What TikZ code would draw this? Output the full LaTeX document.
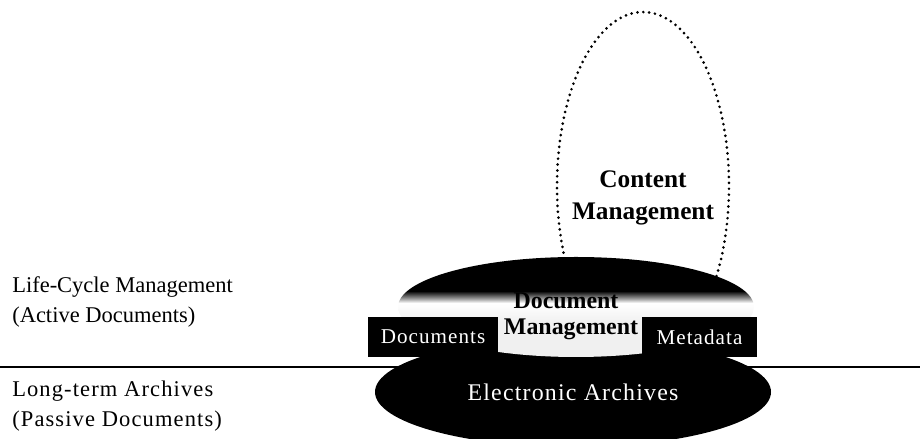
\documentclass[tikz,border=0pt]{standalone}
\usepackage{fontspec}
\setmainfont{Liberation Serif}
\newfontfamily\widefont[LetterSpace=5]{Liberation Serif}
\usetikzlibrary{shapes.geometric}
\pgfdeclareverticalshading{docshade}{100bp}{color(0bp)=(black!6); color(42bp)=(black!6); color(52bp)=(white); color(54bp)=(black!35); color(58bp)=(black); color(100bp)=(black)}
\tikzset{
  lbl/.style={font=\fontsize{16}{19}\selectfont, anchor=base west, inner sep=0pt},
  widelbl/.style={lbl, font=\widefont\fontsize{16}{19}\selectfont},
  darkbox/.style={fill=black, text=white, font=\widefont\fontsize{15}{18}\selectfont, minimum height=1cm, inner sep=0pt},
  boldlbl/.style={font=\bfseries\fontsize{18}{21}\selectfont, anchor=base, inner sep=0pt},
  dotline/.style={line width=2.1pt, line cap=round, dash pattern=on 0pt off 4.2pt}
}
\begin{document}
\begin{tikzpicture}
\useasboundingbox (0,0) rectangle (23,10.975);
\coordinate (eggc) at (16.075,6.325);
\draw[dotline] (eggc) ++(220:2.15 and 4.35) arc[start angle=220, end angle=-40, x radius=2.15, y radius=4.35];
\node[boldlbl] (content) at (16.075,6.275) {Content};
\node[boldlbl] (contentmgmt) at (16.075,5.475) {Management};
\coordinate (lineW) at (0,1.8);
\coordinate (lineE) at (23,1.8);
\draw[line width=0.9pt] (lineW) -- (lineE);
\node[lbl] (life) at (0.3,3.65) {Life-Cycle Management};
\node[lbl] (active) at (0.3,2.9) {(Active Documents)};
\node[widelbl] (longterm) at (0.3,1.05) {Long-term Archives};
\node[widelbl] (passive) at (0.3,0.3) {(Passive Documents)};
\node[ellipse, fill=black, minimum width=9.9cm, minimum height=2.75cm, inner sep=0pt, text=white, font=\widefont\fontsize{17}{20}\selectfont] (archive) at (14.325,1.175) {Electronic Archives};
\node[ellipse, shade, shading=docshade, minimum width=8.9cm, minimum height=2.5cm, inner sep=0pt] (docmgmt) at (14.4,3.3) {};
\node[darkbox, minimum width=3.25cm] (docs) at (10.825,2.55) {Documents};
\node[darkbox, minimum width=2.875cm] (meta) at (17.4875,2.55) {Metadata};
\node[boldlbl, font=\bfseries\fontsize{17}{20}\selectfont] (docword) at (14.15,3.25) {Document};
\node[boldlbl, font=\bfseries\fontsize{17}{20}\selectfont] (mgmtword) at (14.275,2.6) {Management};
\end{tikzpicture}
\end{document}
